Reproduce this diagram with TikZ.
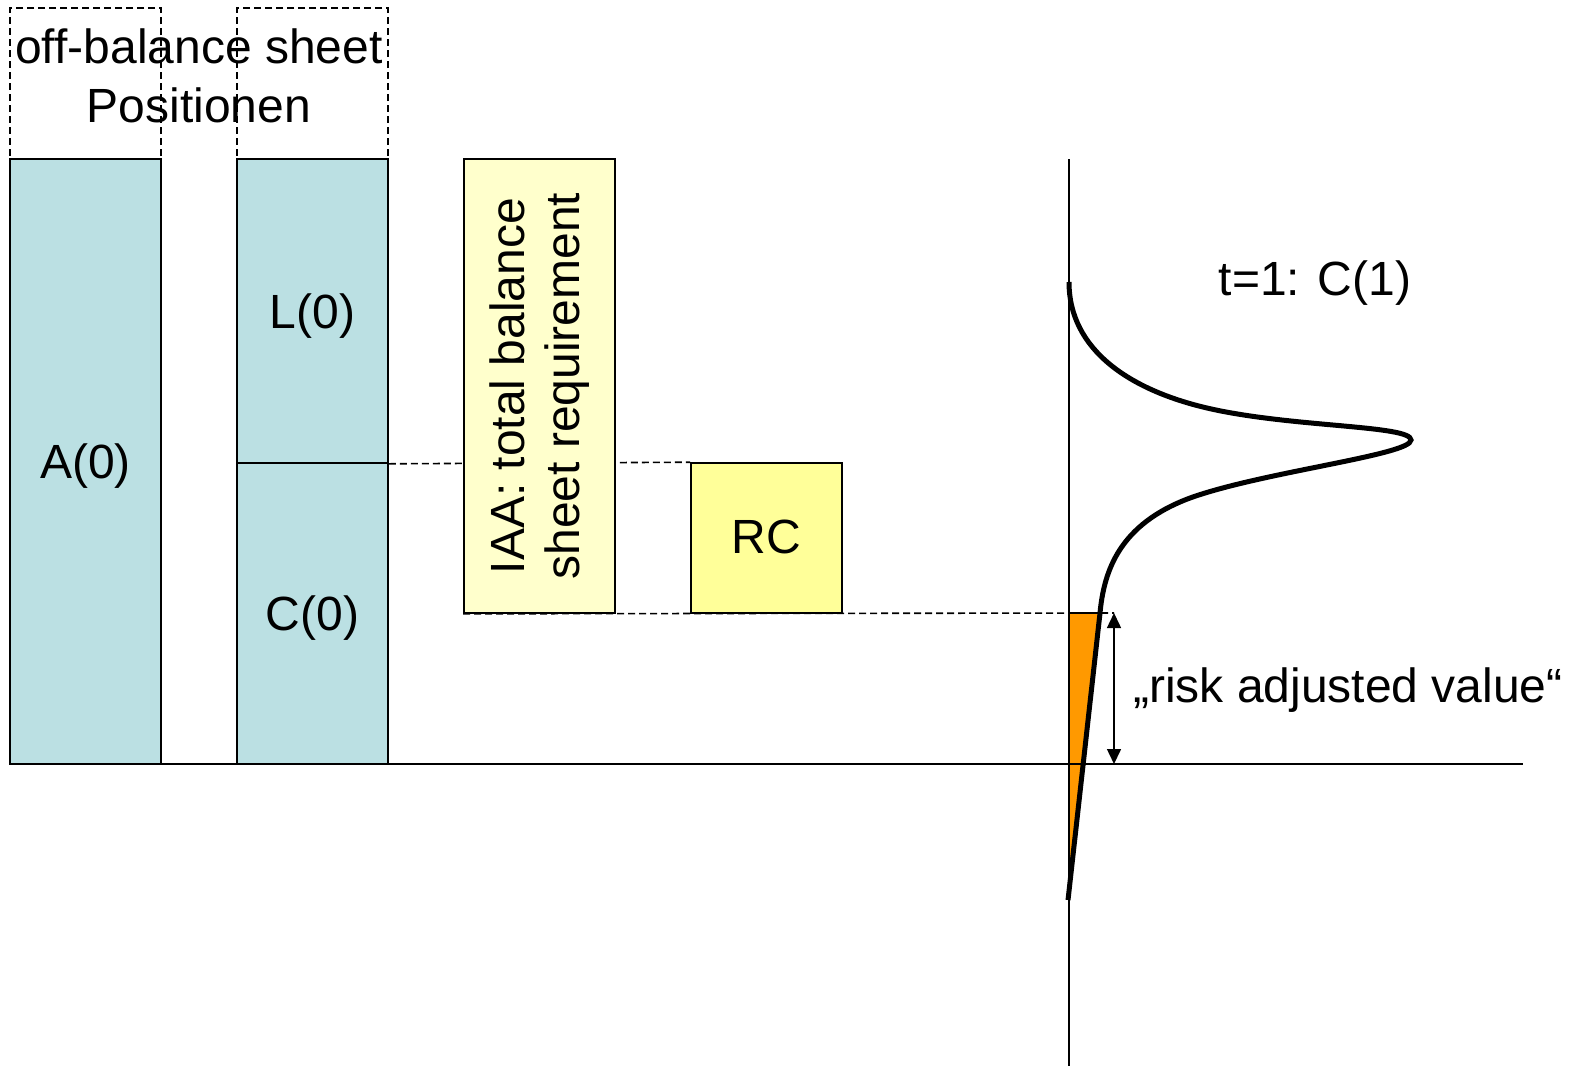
\documentclass[tikz,border=0pt]{standalone}
\usepackage{fontspec}
\setmainfont{Liberation Sans}
\usetikzlibrary{arrows.meta}
\pgfdeclarelayer{background}
\pgfsetlayers{background,main}
\definecolor{bluefill}{RGB}{187,224,227}
\definecolor{iaafill}{RGB}{255,255,204}
\definecolor{rcfill}{RGB}{255,255,153}
\definecolor{orangefill}{RGB}{255,153,0}
\begin{document}
\begin{tikzpicture}[x=1pt,y=-1pt,
  txt/.style={font=\fontsize{48}{59}\selectfont, inner sep=0pt},
  box/.style={draw, line width=1.6pt, inner sep=0pt, minimum width=151pt, txt},
  bluebox/.style={box, fill=bluefill, text height=36pt, text depth=2pt},
  dashbox/.style={draw, line width=1.5pt, dash pattern=on 7pt off 4pt, inner sep=0pt, minimum width=151pt, minimum height=151pt},
  dashline/.style={line width=1.6pt, dash pattern=on 7pt off 4pt},
  axis/.style={line width=1.8pt},
  curve/.style={line width=5pt},
  dimarrow/.style={line width=1.5pt, {Triangle[width=14pt,length=15pt]}-{Triangle[width=14pt,length=15pt]}}
]
\useasboundingbox (0,0) rectangle (1581,1066);
% dashed off-balance boxes
\node[dashbox] (ob1) at (85.5,83.5) {};
\node[dashbox] (ob2) at (312.5,83.5) {};
\node[txt, align=center] (obtxt) at (199,75.4) {off-balance sheet\\Positionen};
% balance sheet boxes
\node[bluebox, minimum height=605pt] (A) at (85.5,461.5) {A(0)};
\node[bluebox, minimum height=304pt] (L) at (312.5,311) {L(0)};
\node[bluebox, minimum height=301pt] (C) at (312.5,613.5) {C(0)};
\node[box, fill=iaafill, minimum width=454pt, minimum height=151pt, rotate=90,
      font=\fontsize{48}{55}\selectfont, align=center] (IAA) at (539.5,386)
      {IAA: total balance\\sheet requirement};
\node[box, fill=rcfill, minimum height=150pt, text height=34pt, text depth=4pt] (RC) at (766.5,538) {RC};
% axes
\coordinate (h0) at (10,764);
\coordinate (h1) at (1523,764);
\coordinate (v0) at (1069,159);
\coordinate (v1) at (1069,1066);
\coordinate (rt) at (1114,613);
\coordinate (rb) at (1114,764);
% orange risk adjusted region
\fill[orangefill] (1069,613) -- (1100,613) -- (1069,891) -- cycle;
\draw[line width=1.5pt] (1069,613) -- (1100,613);
\draw[axis] (h0) -- (h1);
\draw[axis] (v0) -- (v1);
% dashed guide lines
\begin{pgfonlayer}{background}
\draw[dashline] (L.south east) -- (RC.north west);
\draw[dashline] (IAA.north west) -- (rt);
\end{pgfonlayer}
% distribution curve
\draw[curve] (1069,282) .. controls (1069,350) and (1130,390) .. (1207,408)
  .. controls (1290,427.4) and (1411,425) .. (1411,440)
  .. controls (1411,455) and (1262,472) .. (1190,498)
  .. controls (1120,524) and (1104,570) .. (1100,613) -- (1068,900);
% arrow
\draw[dimarrow] (rt) -- (rb);
% labels
\node[txt, anchor=base] (t1) at (1315,295) {t=1: C(1)};
\node[txt, anchor=base west] (rav) at (1133,702) {„risk adjusted value“};
\end{tikzpicture}
\end{document}
